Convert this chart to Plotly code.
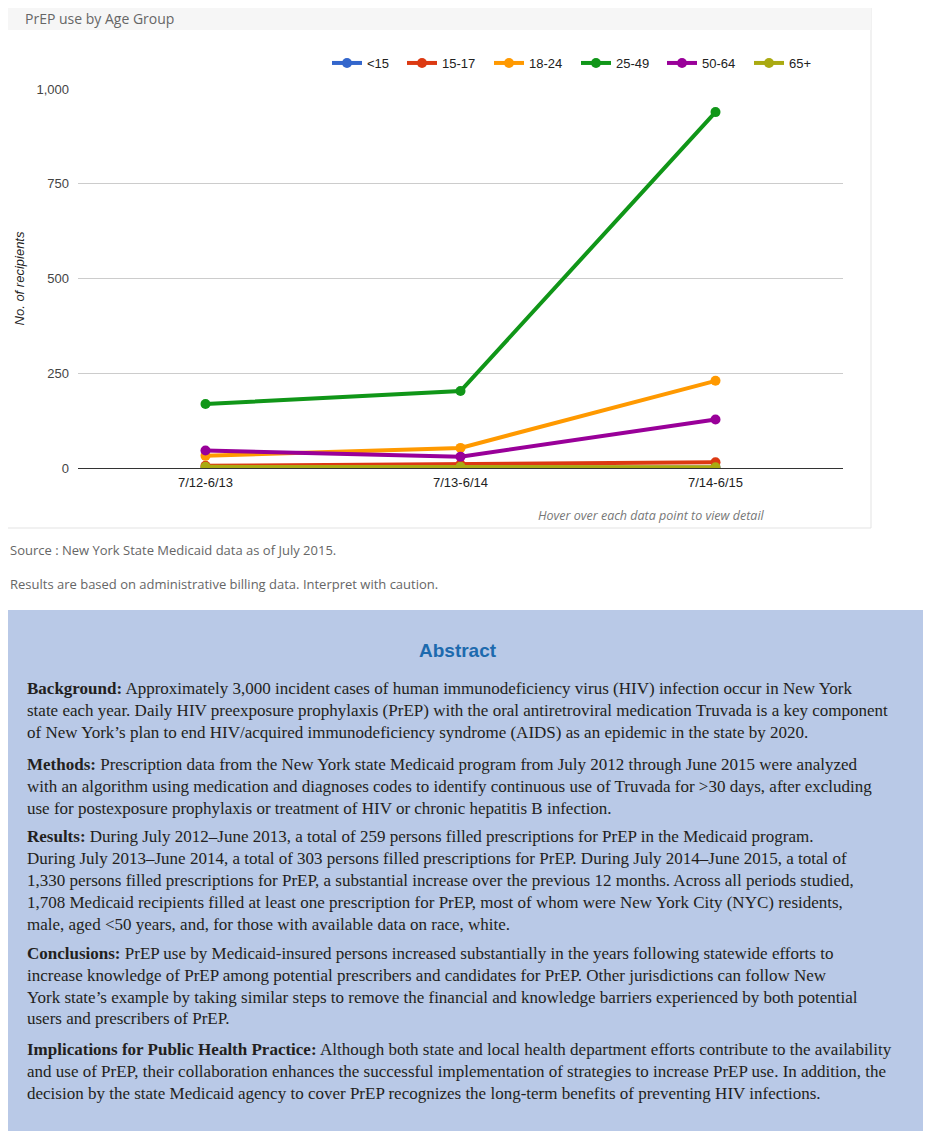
import plotly.graph_objects as go

# The page body adds an 8px offset, so the figure is sized to fill the rest of the window
OFF = 8
W, H = 931 - OFF, 1135 - OFF

# ---- data ----
periods = ["7/12-6/13", "7/13-6/14", "7/14-6/15"]
age_groups = ["<15", "15-17", "18-24", "25-49", "50-64", "65+"]
under15 = [0, 0, 1]
age15_17 = [6, 10, 15]
age18_24 = [32, 53, 230]
age25_49 = [169, 203, 939]
age50_64 = [46, 30, 128]
age65plus = [3, 3, 2]
series_values = [under15, age15_17, age18_24, age25_49, age50_64, age65plus]
colors = ["#3366cc", "#dc3912", "#ff9900", "#109618", "#990099", "#aaaa11"]
legend_widths = [30, 42, 42, 41, 42, 30]
y_ticks = [0, 250, 500, 750, 1000]

abstract_title = "Abstract"
abstract_paragraphs = [
    ["<b>Background:</b> Approximately 3,000 incident cases of human immunodeficiency virus (HIV) infection occur in New York",
     "state each year. Daily HIV preexposure prophylaxis (PrEP) with the oral antiretroviral medication Truvada is a key component",
     "of New York’s plan to end HIV/acquired immunodeficiency syndrome (AIDS) as an epidemic in the state by 2020."],
    ["<b>Methods:</b> Prescription data from the New York state Medicaid program from July 2012 through June 2015 were analyzed",
     "with an algorithm using medication and diagnoses codes to identify continuous use of Truvada for &gt;30 days, after excluding",
     "use for postexposure prophylaxis or treatment of HIV or chronic hepatitis B infection."],
    ["<b>Results:</b> During July 2012–June 2013, a total of 259 persons filled prescriptions for PrEP in the Medicaid program.",
     "During July 2013–June 2014, a total of 303 persons filled prescriptions for PrEP. During July 2014–June 2015, a total of",
     "1,330 persons filled prescriptions for PrEP, a substantial increase over the previous 12 months. Across all periods studied,",
     "1,708 Medicaid recipients filled at least one prescription for PrEP, most of whom were New York City (NYC) residents,",
     "male, aged &lt;50 years, and, for those with available data on race, white."],
    ["<b>Conclusions:</b> PrEP use by Medicaid-insured persons increased substantially in the years following statewide efforts to",
     "increase knowledge of PrEP among potential prescribers and candidates for PrEP. Other jurisdictions can follow New",
     "York state’s example by taking similar steps to remove the financial and knowledge barriers experienced by both potential",
     "users and prescribers of PrEP."],
    ["<b>Implications for Public Health Practice:</b> Although both state and local health department efforts contribute to the availability",
     "and use of PrEP, their collaboration enhances the successful implementation of strategies to increase PrEP use. In addition, the",
     "decision by the state Medicaid agency to cover PrEP recognizes the long-term benefits of preventing HIV infections."],
]
paragraph_top = [688, 764, 836, 953, 1049]


def px(x):
    return (x - OFF) / W


def py(y):
    return 1 - (y - OFF) / H


fig = go.Figure()
for name, vals, col, lw in zip(age_groups, series_values, colors, legend_widths):
    fig.add_trace(go.Scatter(
        x=periods, y=vals, name=name, mode="lines+markers",
        line=dict(color=col, width=4),
        marker=dict(color=col, size=10),
        legendwidth=lw,
    ))

shapes = [
    # chart panel
    dict(type="rect", xref="paper", yref="paper", x0=px(4), x1=px(871), y0=py(528), y1=py(0),
         line=dict(color="#e3e3e3", width=1), fillcolor="white", layer="below"),
    dict(type="rect", xref="paper", yref="paper", x0=px(4), x1=px(871), y0=py(30), y1=py(0),
         line=dict(width=0), fillcolor="#f6f6f6", layer="below"),
    # abstract box
    dict(type="rect", xref="paper", yref="paper", x0=px(3), x1=px(923), y0=py(1131), y1=py(610),
         line=dict(width=0), fillcolor="#b9c9e7", layer="below"),
]

annotations = [
    dict(text="PrEP use by Age Group", x=px(24), y=py(8), xref="paper", yref="paper",
         xanchor="left", yanchor="top", showarrow=False, borderpad=0,
         font=dict(family="Open Sans", size=14, color="#666666")),
    dict(text="<i>Hover over each data point to view detail</i>", x=px(651), y=py(515),
         xref="paper", yref="paper", xanchor="center", yanchor="middle", showarrow=False,
         font=dict(family="Open Sans", size=12.5, color="#777777")),
    dict(text="Source : New York State Medicaid data as of July 2015.", x=px(8), y=py(550),
         xref="paper", yref="paper", xanchor="left", yanchor="middle", showarrow=False,
         font=dict(family="Open Sans", size=13, color="#666666")),
    dict(text="Results are based on administrative billing data. Interpret with caution.", x=px(8), y=py(584),
         xref="paper", yref="paper", xanchor="left", yanchor="middle", showarrow=False,
         font=dict(family="Open Sans", size=13, color="#666666")),
    dict(text="<b>" + abstract_title + "</b>", x=px(458), y=py(650), xref="paper", yref="paper",
         xanchor="center", yanchor="middle", showarrow=False,
         font=dict(family="Liberation Sans Narrow, Liberation Sans", size=19, color="#1d6aae")),
]
for top, lines in zip(paragraph_top, abstract_paragraphs):
    for i, line in enumerate(lines):
        annotations.append(dict(
            text=line, x=px(25), y=py(top + 22 * i), xref="paper", yref="paper",
            xanchor="left", yanchor="middle", showarrow=False,
            font=dict(family="Liberation Serif", size=17, color="#231f20")))

fig.update_layout(
    width=W, height=H,
    margin=dict(l=0, r=0, t=0, b=0, autoexpand=False),
    paper_bgcolor="white",
    plot_bgcolor="rgba(0,0,0,0)",
    showlegend=True,
    legend=dict(orientation="h", x=px(327), y=py(63), xanchor="left", yanchor="middle",
                font=dict(family="Arial", size=13, color="#222222"),
                bgcolor="rgba(0,0,0,0)", traceorder="normal"),
    xaxis=dict(domain=[px(78), px(843)], type="category", range=[-0.5, 2.5],
               showgrid=False, zeroline=False, showline=False, ticks="",
               ticklabelstandoff=5,
               tickfont=dict(family="Arial", size=13, color="#222222")),
    yaxis=dict(domain=[py(468), py(89)], range=[0, 1000], tickvals=y_ticks,
               tickformat=",d", showgrid=True, gridcolor="#cccccc", gridwidth=1,
               zeroline=True, zerolinecolor="#333333", zerolinewidth=1,
               showline=False, ticks="", ticklabelstandoff=8,
               tickfont=dict(family="Arial", size=13, color="#444444"),
               title=dict(text="<i>No. of recipients</i>", standoff=8,
                          font=dict(family="Arial", size=13, color="#222222"))),
    shapes=shapes,
    annotations=annotations,
)

fig.write_html("out.html")
